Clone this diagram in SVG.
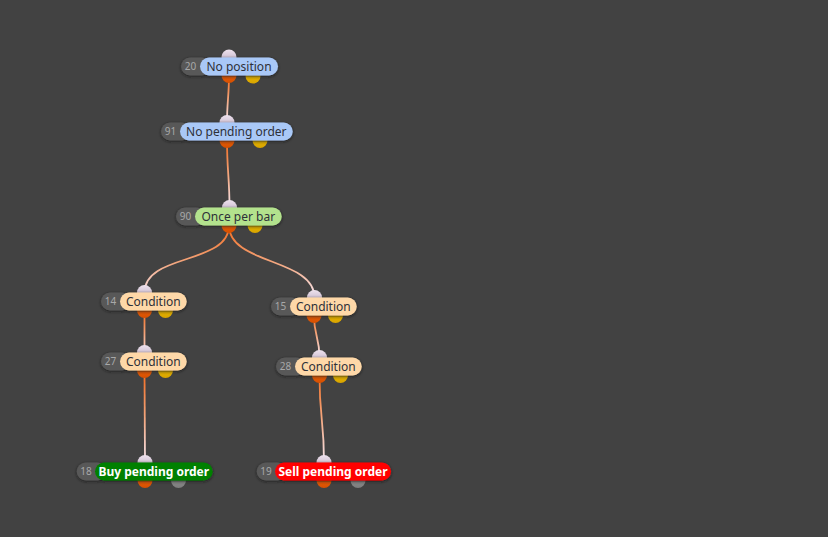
<svg xmlns="http://www.w3.org/2000/svg" width="828" height="537" viewBox="0 0 828 537">
<defs>
<filter id="sh" x="-20%" y="-50%" width="140%" height="200%">
<feDropShadow dx="0" dy="1" stdDeviation="1.6" flood-color="#161616" flood-opacity="0.85"/>
</filter>
<linearGradient id="gin" x1="0" y1="0" x2="0" y2="1">
<stop offset="0" stop-color="#eee2ee"/><stop offset="1" stop-color="#b6a6bc"/>
</linearGradient>
<linearGradient id="gout" x1="0" y1="0" x2="0" y2="1">
<stop offset="0" stop-color="#f26a10"/><stop offset="1" stop-color="#d64f00"/>
</linearGradient>
<linearGradient id="gyel" x1="0" y1="0" x2="0" y2="1">
<stop offset="0" stop-color="#f2c400"/><stop offset="1" stop-color="#d8a400"/>
</linearGradient>
<linearGradient id="ggry" x1="0" y1="0" x2="0" y2="1">
<stop offset="0" stop-color="#9a9a9a"/><stop offset="1" stop-color="#7c7c7c"/>
</linearGradient>
<linearGradient id="c1" gradientUnits="userSpaceOnUse" x1="0" y1="75.5" x2="0" y2="122.5"><stop offset="0" stop-color="#f26a1d"/><stop offset="0.5" stop-color="#f4a47a"/><stop offset="1" stop-color="#f4e6f0"/></linearGradient>
<linearGradient id="c2" gradientUnits="userSpaceOnUse" x1="0" y1="140.5" x2="0" y2="207.5"><stop offset="0" stop-color="#f26a1d"/><stop offset="0.5" stop-color="#f4a47a"/><stop offset="1" stop-color="#f4e6f0"/></linearGradient>
<linearGradient id="c3" gradientUnits="userSpaceOnUse" x1="0" y1="225.5" x2="0" y2="297.5"><stop offset="0" stop-color="#f26a1d"/><stop offset="0.5" stop-color="#f4a47a"/><stop offset="1" stop-color="#f4e6f0"/></linearGradient>
<linearGradient id="c4" gradientUnits="userSpaceOnUse" x1="0" y1="310.5" x2="0" y2="357.5"><stop offset="0" stop-color="#f26a1d"/><stop offset="0.5" stop-color="#f4a47a"/><stop offset="1" stop-color="#f4e6f0"/></linearGradient>
<linearGradient id="c5" gradientUnits="userSpaceOnUse" x1="0" y1="370.5" x2="0" y2="462.5"><stop offset="0" stop-color="#f26a1d"/><stop offset="0.5" stop-color="#f4a47a"/><stop offset="1" stop-color="#f4e6f0"/></linearGradient>
</defs>
<style>
.num{font-family:"Noto Sans","Open Sans",sans-serif;font-size:10px;fill:#a8a8a8;text-anchor:middle}
.lbl{font-family:"Noto Sans","Open Sans",sans-serif;font-size:12px;fill:#2e3038;text-anchor:middle}
.lblw{font-family:"Noto Sans","Open Sans",sans-serif;font-size:12px;font-weight:bold;fill:#ffffff;text-anchor:middle}
.gp{fill:#585858}
.in{fill:url(#gin)}
.out{fill:url(#gout)}
.yel{fill:url(#gyel)}
.gry{fill:url(#ggry)}
.wire{fill:none;stroke-width:1.8}
</style>
<rect width="828" height="537" fill="#424242"/>
<g id="connectors">
<path class="wire" stroke="url(#c1)" d="M229 75.5 C229 95 227 103 227 122.5"/>
<path class="wire" stroke="url(#c2)" d="M227 140.5 C227 170 229.5 178 229.5 207.5"/>
<path class="wire" stroke="url(#c3)" d="M229 225.5 C229 265 144.5 253 144.5 292.5"/>
<path class="wire" stroke="url(#c3)" d="M229 225.5 C229 265 314.5 258 314.5 297.5"/>
<path class="wire" stroke="url(#c4)" d="M144.5 310.5 C144.5 330 144.5 333 144.5 352.5"/>
<path class="wire" stroke="url(#c4)" d="M314 315.5 C314 336 319.5 337 319.5 357.5"/>
<path class="wire" stroke="url(#c5)" d="M144.5 370.5 C144.5 415 145 418 145 462.5"/>
<path class="wire" stroke="url(#c5)" d="M319.5 375.5 C319.5 420 324 418 324 462.5"/>
</g>
<g id="node20">
<circle class="in" cx="229" cy="57" r="7.5"/><circle class="out" cx="229" cy="75.5" r="7.5"/><circle class="yel" cx="253" cy="76" r="7.5"/>
<g filter="url(#sh)"><rect class="gp" x="181" y="57.5" width="30" height="18" rx="9"/><rect x="200" y="57.5" width="78" height="18" rx="9" fill="#a9c8f7"/></g>
<text class="num" x="190.5" y="70">20</text><text class="lbl" x="239" y="71">No position</text>
</g>
<g id="node91">
<circle class="in" cx="227" cy="122.5" r="7.5"/><circle class="out" cx="227" cy="140.5" r="7.5"/><circle class="yel" cx="260" cy="140.5" r="7.5"/>
<g filter="url(#sh)"><rect class="gp" x="161" y="122.5" width="30" height="18" rx="9"/><rect x="180" y="122.5" width="112.7" height="18" rx="9" fill="#a9c8f7"/></g>
<text class="num" x="170.5" y="135">91</text><text class="lbl" x="236.3" y="136">No pending order</text>
</g>
<g id="node90">
<circle class="in" cx="229.5" cy="207.5" r="7.5"/><circle class="out" cx="229" cy="225.5" r="7.5"/><circle class="yel" cx="255" cy="225.5" r="7.5"/>
<g filter="url(#sh)"><rect class="gp" x="176" y="207.5" width="30" height="18" rx="9"/><rect x="195" y="207.5" width="86.7" height="18" rx="9" fill="#b3e28d"/></g>
<text class="num" x="185.5" y="220">90</text><text class="lbl" x="238.3" y="221">Once per bar</text>
</g>
<g id="node14">
<circle class="in" cx="144.5" cy="292.5" r="7.5"/><circle class="out" cx="144.5" cy="310.5" r="7.5"/><circle class="yel" cx="165.5" cy="310.5" r="7.5"/>
<g filter="url(#sh)"><rect class="gp" x="101" y="292.5" width="30" height="18" rx="9"/><rect x="120" y="292.5" width="66.7" height="18" rx="9" fill="#fed8a8"/></g>
<text class="num" x="110.5" y="305">14</text><text class="lbl" x="153.3" y="306">Condition</text>
</g>
<g id="node15">
<circle class="in" cx="314.5" cy="297.5" r="7.5"/><circle class="out" cx="314" cy="315.5" r="7.5"/><circle class="yel" cx="335.5" cy="315.5" r="7.5"/>
<g filter="url(#sh)"><rect class="gp" x="271" y="297.5" width="30" height="18" rx="9"/><rect x="290" y="297.5" width="66.7" height="18" rx="9" fill="#fed8a8"/></g>
<text class="num" x="280.5" y="310">15</text><text class="lbl" x="323.3" y="311">Condition</text>
</g>
<g id="node27">
<circle class="in" cx="144.5" cy="352.5" r="7.5"/><circle class="out" cx="144.5" cy="370.5" r="7.5"/><circle class="yel" cx="165.5" cy="370.5" r="7.5"/>
<g filter="url(#sh)"><rect class="gp" x="101" y="352.5" width="30" height="18" rx="9"/><rect x="120" y="352.5" width="66.7" height="18" rx="9" fill="#fed8a8"/></g>
<text class="num" x="110.5" y="365">27</text><text class="lbl" x="153.3" y="366">Condition</text>
</g>
<g id="node28">
<circle class="in" cx="319.5" cy="357.5" r="7.5"/><circle class="out" cx="319.5" cy="375.5" r="7.5"/><circle class="yel" cx="340.5" cy="375.5" r="7.5"/>
<g filter="url(#sh)"><rect class="gp" x="276" y="357.5" width="30" height="18" rx="9"/><rect x="295" y="357.5" width="66.7" height="18" rx="9" fill="#fed8a8"/></g>
<text class="num" x="285.5" y="370">28</text><text class="lbl" x="328.3" y="371">Condition</text>
</g>
<g id="node18">
<circle class="in" cx="145" cy="462.5" r="7.5"/><circle class="out" cx="145" cy="480.5" r="7.5"/><circle class="gry" cx="178.5" cy="480.5" r="7.5"/>
<g filter="url(#sh)"><rect class="gp" x="76.7" y="462.5" width="30" height="18" rx="9"/><rect x="95" y="462.5" width="117.7" height="18" rx="9" fill="#008000"/></g>
<text class="num" x="86" y="475">18</text><text class="lblw" x="153.8" y="476">Buy pending order</text>
</g>
<g id="node19">
<circle class="in" cx="324" cy="462.5" r="7.5"/><circle class="out" cx="324" cy="480.5" r="7.5"/><circle class="gry" cx="358" cy="480.5" r="7.5"/>
<g filter="url(#sh)"><rect class="gp" x="256.7" y="462.5" width="30" height="18" rx="9"/><rect x="275" y="462.5" width="116" height="18" rx="9" fill="#ff0000"/></g>
<text class="num" x="266" y="475">19</text><text class="lblw" x="333" y="476">Sell pending order</text>
</g>
</svg>
